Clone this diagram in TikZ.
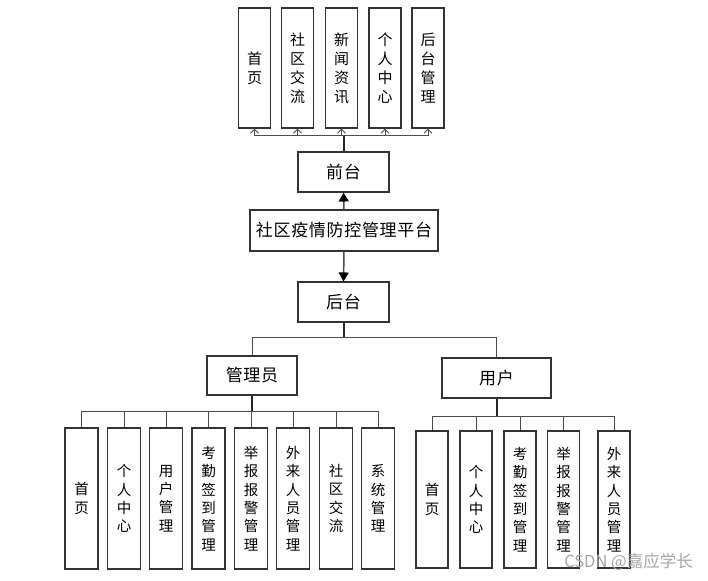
\documentclass[tikz,border=0pt]{standalone}
\usepackage{fontspec}
\setmainfont{Noto Sans CJK SC}
\newfontfamily\spacedcjk[LetterSpace=4]{Noto Sans CJK SC}
\usetikzlibrary{arrows.meta}
\begin{document}
\begin{tikzpicture}[x=1pt,y=-1pt,
  box/.style={draw=black!80, line width=1.1pt, fill=white, inner sep=0pt},
  topbox/.style={box, minimum width=32pt, minimum height=120pt, align=center, font=\fontsize{15}{19}\selectfont},
  adminbox/.style={box, minimum width=33pt, minimum height=141pt, align=center, font=\fontsize{14.5}{18.3}\selectfont},
  userbox/.style={box, minimum width=32pt, minimum height=137pt, align=center, font=\fontsize{14.5}{18.3}\selectfont},
  mainbox/.style={box, minimum height=40pt, font=\spacedcjk\fontsize{17}{17}\selectfont},
  conn/.style={draw=black!70, line width=1pt},
  stem/.style={draw=black!85, line width=2pt},
  smallarrow/.style={conn, -{Straight Barb[length=4pt,width=8pt,line width=0.9pt]}},
  bigarrow/.style={conn, line width=1.5pt, -{Triangle[length=9pt,width=10pt,color=black]}}]
\useasboundingbox (0,0) rectangle (708,580);

% top row
\node[topbox] (t1) at (254.5,68) {首\\页};
\node[topbox] (t2) at (297.5,68) {社\\区\\交\\流};
\node[topbox] (t3) at (341.5,68) {新\\闻\\资\\讯};
\node[topbox] (t4) at (385,68) {个\\人\\中\\心};
\node[topbox] (t5) at (428,68) {后\\台\\管\\理};

% main boxes
\node[mainbox, minimum width=91pt] (qt) at (343.5,172) {前台};
\node[mainbox, minimum width=188pt, minimum height=41pt] (plat) at (344,230.5) {社区疫情防控管理平台};
\node[mainbox, minimum width=91pt] (ht) at (343.5,302) {后台};
\node[mainbox, minimum width=90pt, minimum height=39pt] (adm) at (252,375.5) {管理员};
\node[mainbox, minimum width=109pt] (usr) at (496.5,378) {用户};

% admin children
\node[adminbox] (a1) at (81.5,498.5) {首\\页};
\node[adminbox] (a2) at (124,498.5) {个\\人\\中\\心};
\node[adminbox] (a3) at (166,498.5) {用\\户\\管\\理};
\node[adminbox] (a4) at (208.5,498.5) {考\\勤\\签\\到\\管\\理};
\node[adminbox] (a5) at (251,498.5) {举\\报\\报\\警\\管\\理};
\node[adminbox] (a6) at (293,498.5) {外\\来\\人\\员\\管\\理};
\node[adminbox] (a7) at (336,498.5) {社\\区\\交\\流};
\node[adminbox] (a8) at (378,498.5) {系\\统\\管\\理};

% user children
\node[userbox] (u1) at (432,499.5) {首\\页};
\node[userbox] (u2) at (476,499.5) {个\\人\\中\\心};
\node[userbox] (u3) at (520,499.5) {考\\勤\\签\\到\\管\\理};
\node[userbox] (u4) at (563.5,499.5) {举\\报\\报\\警\\管\\理};
\node[userbox] (u5) at (614,499.5) {外\\来\\人\\员\\管\\理};

% bus coordinates
\coordinate (tb) at (344,136);
\coordinate (hb) at (343.5,337);
\coordinate (ab) at (252,411);
\coordinate (ub) at (497,416);

% front connectors
\draw[conn] (t1.south |- tb) -- (t5.south |- tb);
\foreach \n in {t1,t2,t3,t4,t5} \draw[smallarrow] (\n.south |- tb) -- (\n.south);
\draw[stem] (qt.north) -- (qt.north |- tb);
\draw[bigarrow] (plat.north) -- (qt.south);
\draw[bigarrow] (plat.south) -- (ht.north);

% back connectors
\draw[stem] (ht.south) -- (ht.south |- hb);
\draw[conn] (adm.north) -- (adm.north |- hb) -- (usr.north |- hb) -- (usr.north);

% admin connectors
\draw[stem] (adm.south) -- (adm.south |- ab);
\draw[conn] (a1.north |- ab) -- (a8.north |- ab);
\foreach \n in {a1,a2,a3,a4,a5,a6,a7,a8} \draw[conn] (\n.north |- ab) -- (\n.north);

% user connectors
\draw[stem] (usr.south) -- (usr.south |- ub);
\draw[conn] (u1.north |- ub) -- (u5.north |- ub);
\foreach \n in {u1,u2,u3,u4,u5} \draw[conn] (\n.north |- ub) -- (\n.north);

% watermark
\node[text=black!35, font=\fontsize{16.5}{17}\selectfont, anchor=east, inner sep=0pt] (wm) at (693,562) {CSDN @嘉应学长};
\end{tikzpicture}
\end{document}
